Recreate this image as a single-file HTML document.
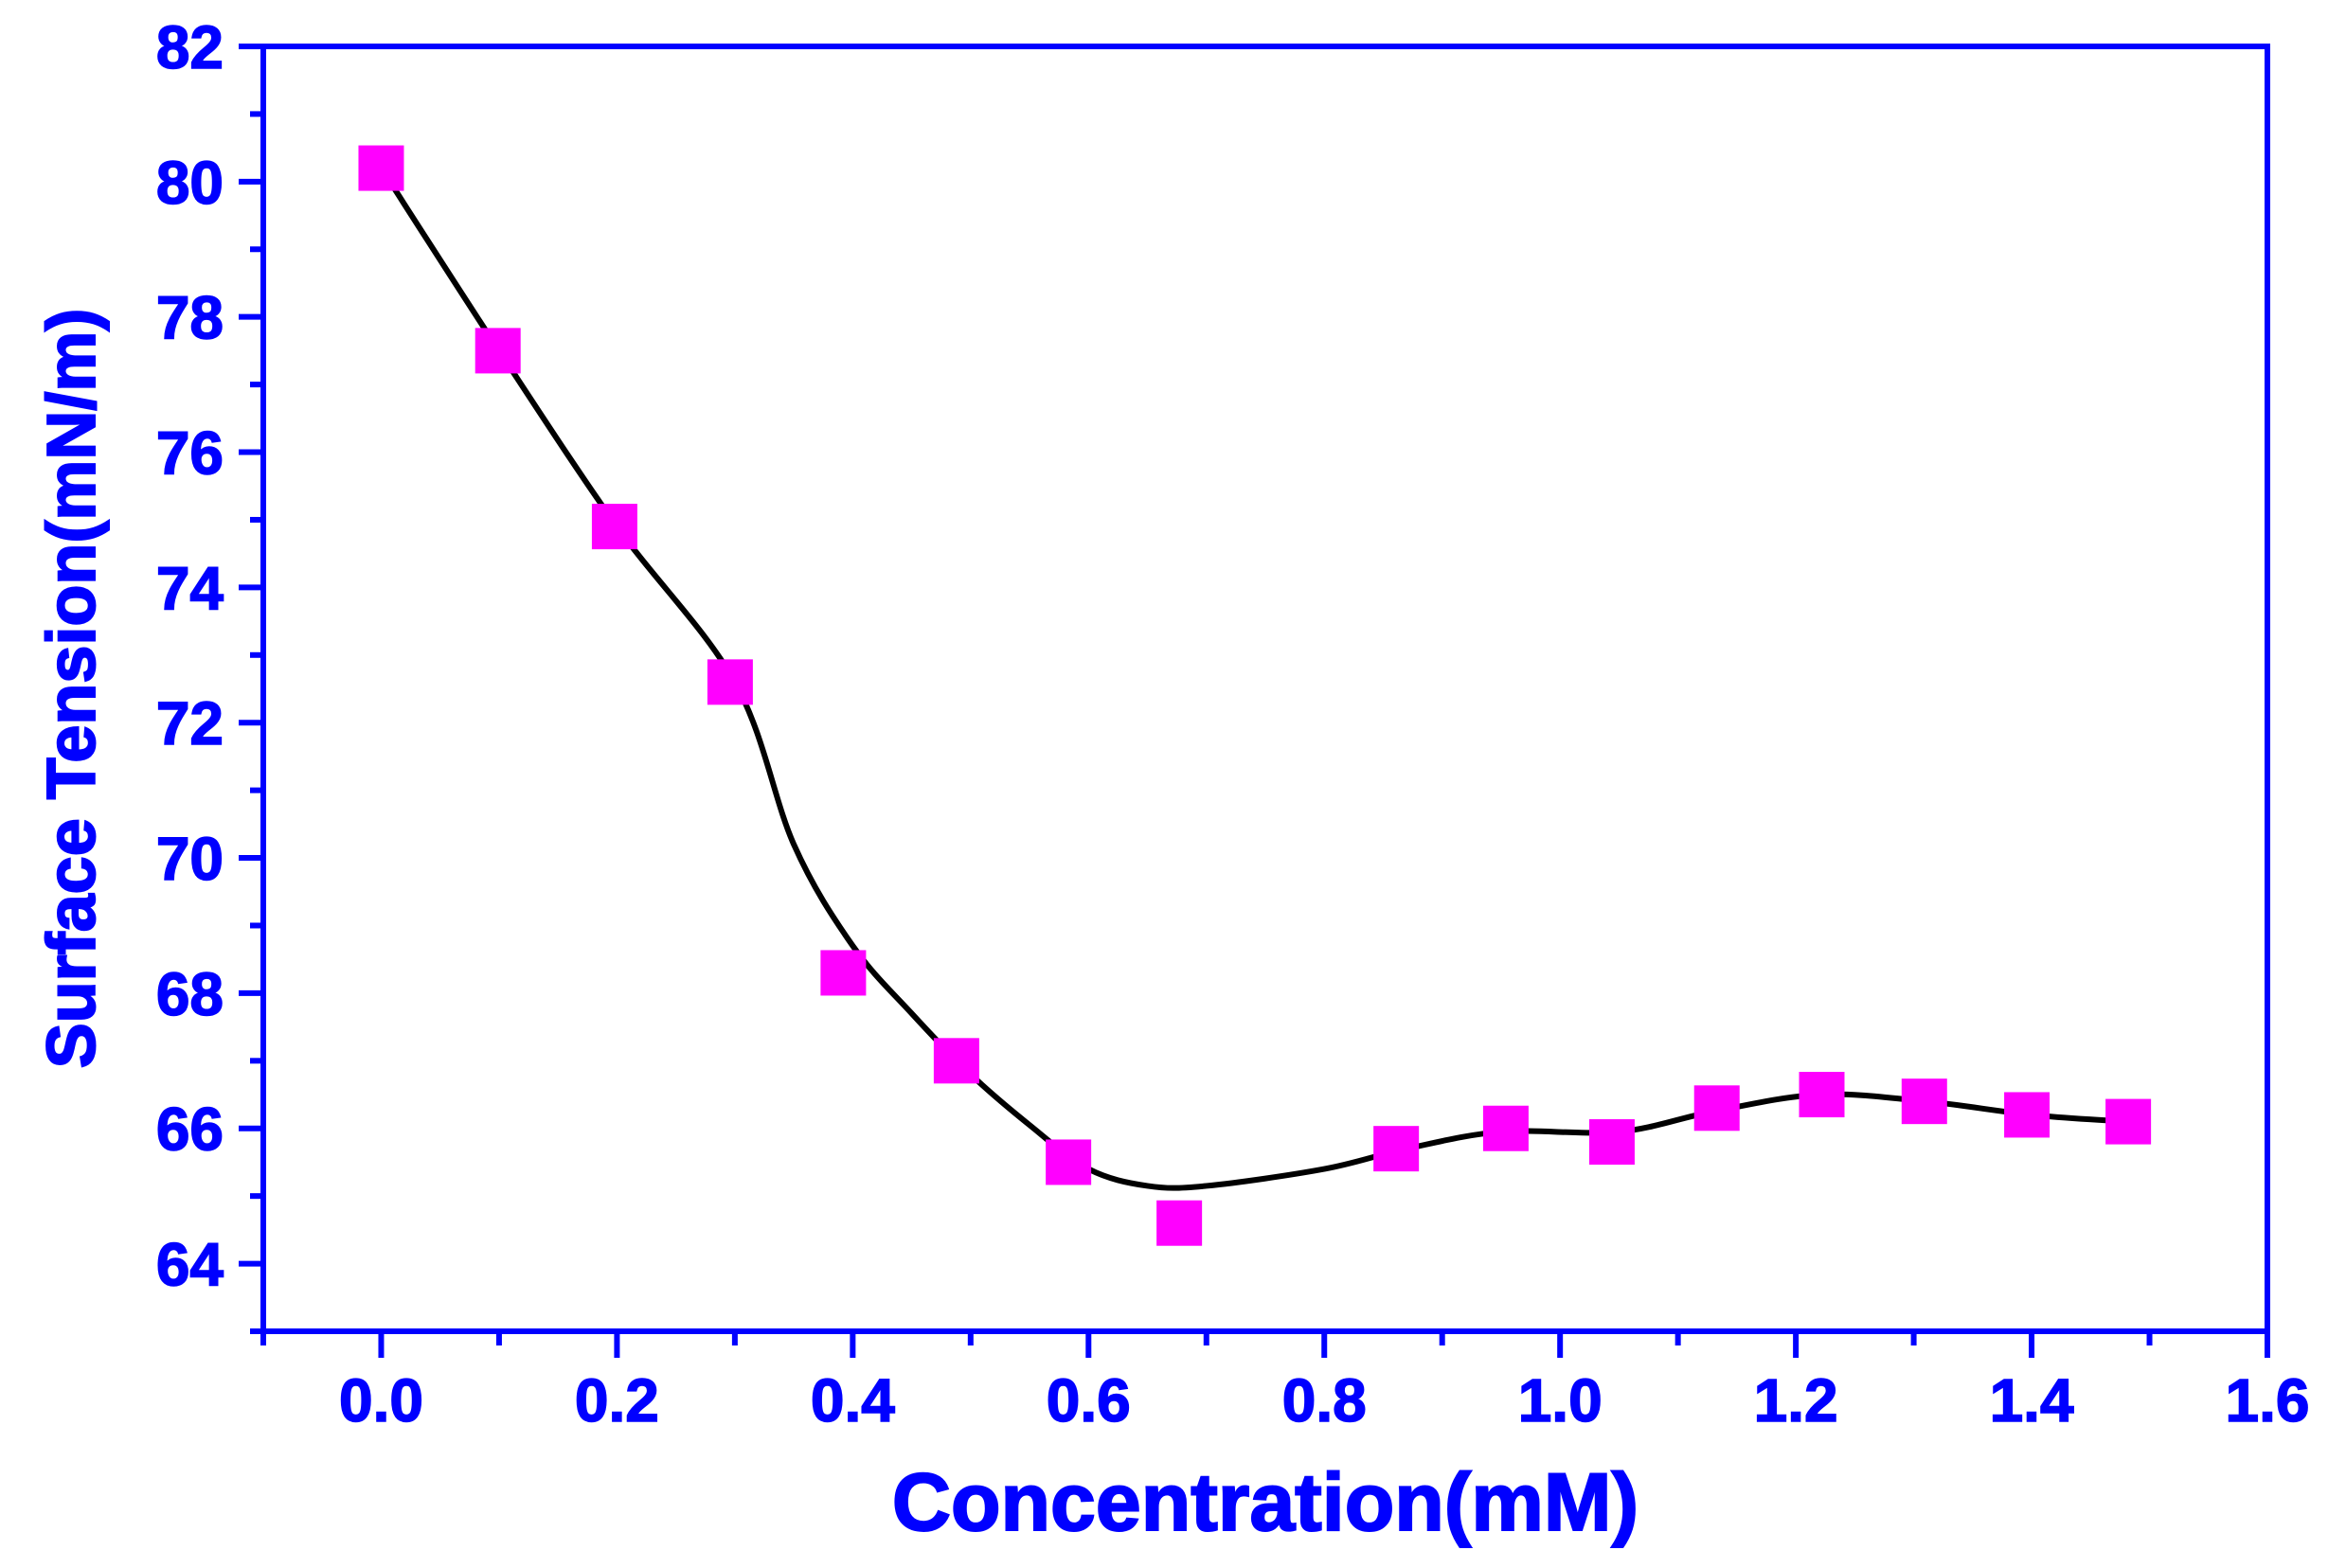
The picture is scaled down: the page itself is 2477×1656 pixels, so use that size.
<!DOCTYPE html>
<html><head><meta charset="utf-8"><style>
html,body{margin:0;padding:0;background:#fff;}
svg{display:block;}
text{font-family:"Liberation Sans",Arial,sans-serif;font-weight:bold;fill:#0000ff;}
</style></head><body>
<svg id="chart" width="2477" height="1656" viewBox="0 0 2477 1656" xmlns="http://www.w3.org/2000/svg">
<rect width="2477" height="1656" fill="#fff"/>
<g id="axes"></g>
<g id="curve"></g>
<g id="points"></g>
<text x="1336" y="1616" font-size="86" stroke="#0000ff" stroke-width="2" text-anchor="middle">Concentration(mM)</text>
<text x="0" y="0" font-size="72" stroke="#0000ff" stroke-width="2" text-anchor="middle" transform="translate(100,727) rotate(-90)">Surface Tension(mN/m)</text>
</svg>
<script>
const concentrations = [0.0, 0.099, 0.198, 0.296, 0.392, 0.488, 0.583, 0.677, 0.861, 0.954, 1.044, 1.133, 1.222, 1.309, 1.396, 1.482];
const tensions = [80.2, 77.5, 74.9, 72.6, 68.3, 67.0, 65.5, 64.6, 65.7, 66.0, 65.8, 66.3, 66.5, 66.4, 66.2, 66.1];
const fitX = [0, 0.1, 0.2, 0.3, 0.35, 0.4, 0.45, 0.5, 0.55, 0.6, 0.65, 0.7, 0.8, 0.87, 0.95, 1.05, 1.13, 1.22, 1.31, 1.4, 1.48];
const fitY = [80.2, 77.5, 74.9, 72.6, 70.2, 68.7, 67.7, 66.8, 66.05, 65.4, 65.15, 65.15, 65.4, 65.7, 65.95, 65.95, 66.25, 66.5, 66.4, 66.2, 66.1];
const xTickLabels = ["0.0","0.2","0.4","0.6","0.8","1.0","1.2","1.4","1.6"];
const yTickLabels = ["64","66","68","70","72","74","76","78","80","82"];

const L=278,R=2394,T=49,B=1406,XMIN=-0.1,XMAX=1.6,YMIN=63,YMAX=82;
const sx=v=>L+(v-XMIN)/(XMAX-XMIN)*(R-L);
const sy=v=>B-(v-YMIN)/(YMAX-YMIN)*(B-T);
const NS="http://www.w3.org/2000/svg";
function mk(tag,attrs,parent){const e=document.createElementNS(NS,tag);for(const k in attrs)e.setAttribute(k,attrs[k]);parent.appendChild(e);return e;}
const axes=document.getElementById('axes');
const blue="#0000ff";
let f=mk('rect',{x:L,y:T,width:R-L,height:B-T,fill:"none",stroke:blue,"stroke-width":6},axes);


for(let v=63;v<=82;v++){
  const major=(v%2===0);
  const t=mk('line',{x1:L,x2:L-(major?26:14),y1:sy(v),y2:sy(v),stroke:blue,"stroke-width":6},axes);
  
  
}
yTickLabels.forEach(s=>{
  const t=mk('text',{x:236,y:sy(parseFloat(s))+23,"font-size":64,stroke:blue,"stroke-width":1.5,"text-anchor":"end"},axes);
  t.textContent=s;
  
  
});
for(let i=-1;i<=16;i++){
  const v=i/10, major=(i%2===0);
  const t=mk('line',{x1:sx(v),x2:sx(v),y1:B,y2:B+(major?28:15),stroke:blue,"stroke-width":6},axes);
  
  
}
xTickLabels.forEach(s=>{
  const t=mk('text',{x:sx(parseFloat(s)),y:1501,"font-size":64,stroke:blue,"stroke-width":1.5,"text-anchor":"middle"},axes);
  t.textContent=s;
  
  
});
const pts=fitX.map((x,i)=>[sx(x),sy(fitY[i])]);
let d="M"+pts[0][0]+","+pts[0][1];
for(let i=0;i<pts.length-1;i++){
  const p0=pts[Math.max(0,i-1)],p1=pts[i],p2=pts[i+1],p3=pts[Math.min(pts.length-1,i+2)];
  const c1=[p1[0]+(p2[0]-p0[0])/6,p1[1]+(p2[1]-p0[1])/6];
  const c2=[p2[0]-(p3[0]-p1[0])/6,p2[1]-(p3[1]-p1[1])/6];
  d+=" C"+c1+" "+c2+" "+p2;
}
const c=mk('path',{d:d,fill:"none",stroke:"#000","stroke-width":6,"stroke-linejoin":"round"},document.getElementById('curve'));


const pg=document.getElementById('points');
concentrations.forEach((x,i)=>{
  const s=48;
  const r=mk('rect',{x:sx(x)-s/2,y:sy(tensions[i])-s/2,width:s,height:s,fill:"#ff00ff"},pg);
  
  
});
</script>
</body></html>
